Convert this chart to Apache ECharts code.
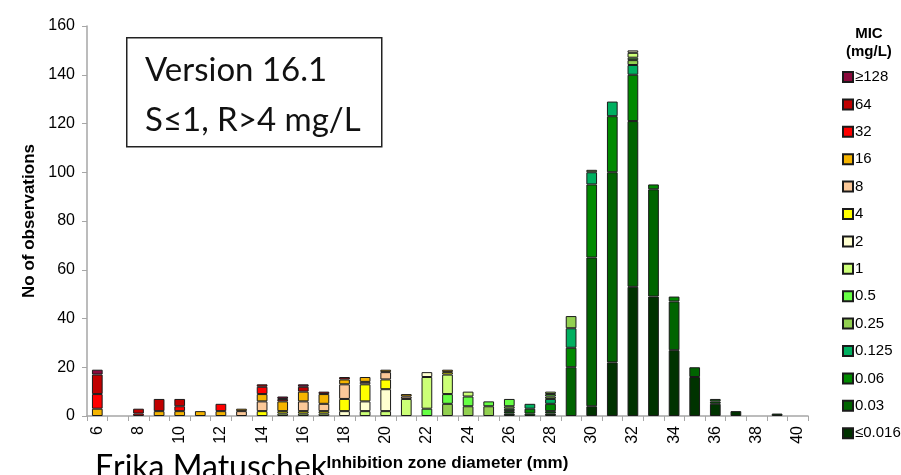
<!DOCTYPE html>
<html>
<head>
<meta charset="utf-8">
<script src="https://cdn.jsdelivr.net/npm/echarts@6/dist/echarts.min.js"></script>
<style>
  html, body { margin: 0; padding: 0; background: #fff; }
  #chart-container { width: 901px; height: 475px; }
</style>
</head>
<body>
<div id="chart-container"></div>
<script>
// zone diameters (mm)
var categories = ['6','7','8','9','10','11','12','13','14','15','16','17','18','19','20','21','22','23',
  '24','25','26','27','28','29','30','31','32','33','34','35','36','37','38','39','40'];
var yTicks = [0, 20, 40, 60, 80, 100, 120, 140, 160];

// MIC classes, bottom of stack first
var micNames = ['≤0.016','0.03','0.06','0.125','0.25','0.5','1','2','4','8','16','32','64','≥128'];
var micColors = ['#003300','#006400','#008a00','#00b060','#92d050','#66ff44','#ccff77','#ffffd0',
  '#ffff00','#fbc898','#f5b400','#ff0000','#c00000','#8b0a3c'];

var mic0016 = [0,0,0,0,0, 0,0,0,0,0, 0,0,0,0,0, 0,0,0,0,0, 1,0,1,0,4, 22,53,49,27,16, 5,2,0,1,0];
var mic003  = [0,0,0,0,0, 0,0,0,0,0, 0,0,0,0,0, 0,0,0,0,0, 1,1,1,20,61, 78,68,44,20,4, 1,0,0,0,0];
var mic006  = [0,0,0,0,0, 0,0,0,0,0, 0,0,0,0,0, 0,0,0,0,0, 1,2,3,8,30, 23,19,2,2,0, 1,0,0,0,0];
var mic0125 = [0,0,0,0,0, 0,0,0,0,0, 0,0,0,0,0, 0,0,0,0,0, 0,2,2,8,5, 6,4,0,0,0, 0,0,0,0,0];
var mic025  = [0,0,0,0,0, 0,0,0,0,0, 0,0,0,0,0, 0,0,5,4,4, 1,0,1,5,1, 0,2,0,0,0, 0,0,0,0,0];
var mic05   = [0,0,0,0,0, 0,0,0,0,0, 0,0,0,0,0, 0,3,4,4,2, 3,0,1,0,0, 0,1,0,0,0, 0,0,0,0,0];
var mic1    = [0,0,0,0,0, 0,0,0,0,1, 1,1,0,2,2, 7,13,8,2,0, 0,0,1,0,0, 0,2,0,0,0, 0,0,0,0,0];
var mic2    = [0,0,0,0,0, 0,0,0,0,0, 0,0,2,4,9, 0,2,0,0,0, 0,0,0,0,0, 0,1,0,0,0, 0,0,0,0,0];
var mic4    = [0,0,0,0,0, 0,0,0,2,1, 1,1,5,7,4, 0,0,1,0,0, 0,0,0,0,0, 0,0,0,0,0, 0,0,0,0,0];
var mic8    = [0,0,0,0,0, 0,0,2,4,0, 4,3,6,1,3, 1,0,0,0,0, 0,0,0,0,0, 0,0,0,0,0, 0,0,0,0,0];
var mic16   = [3,0,0,2,2, 2,2,1,3,4, 4,4,2,2,1, 1,0,1,0,0, 0,0,0,0,0, 0,0,0,0,0, 0,0,0,0,0];
var mic32   = [6,0,1,0,2, 0,3,0,3,0, 0,0,0,0,0, 0,0,0,0,0, 0,0,0,0,0, 0,0,0,0,0, 0,0,0,0,0];
var mic64   = [8,0,2,5,3, 0,0,0,1,1, 2,1,1,0,0, 0,0,0,0,0, 0,0,0,0,0, 0,0,0,0,0, 0,0,0,0,0];
var mic128  = [2,0,0,0,0, 0,0,0,0,1, 1,0,0,0,0, 0,0,0,0,0, 0,0,0,0,0, 0,0,0,0,0, 0,0,0,0,0];

var micData = [mic0016, mic003, mic006, mic0125, mic025, mic05, mic1, mic2, mic4, mic8, mic16, mic32, mic64, mic128];

var dom = document.getElementById('chart-container');
var myChart = echarts.init(dom, null, { renderer: 'canvas' });

var series = micNames.map(function (name, i) {
  return {
    name: name,
    type: 'bar',
    stack: 'mic',
    barWidth: '52%',
    itemStyle: {
      color: micColors[i],
      borderColor: '#1a1a1a',
      borderWidth: 1
    },
    data: micData[i].map(function (v) { return v === 0 ? '-' : v; })
  };
});

var axisFont = 'Liberation Sans';

var option = {
  animation: false,
  textStyle: { fontFamily: axisFont },
  grid: { left: 87, right: 93, top: 26, bottom: 59, outerBoundsMode: 'none' },
  legend: {
    orient: 'vertical',
    left: 837,
    top: 64,
    icon: 'rect',
    itemWidth: 10,
    itemHeight: 10,
    itemGap: 11.4,
    data: micNames.slice().reverse(),
    textStyle: { fontSize: 15, color: '#000', padding: [0, 0, 0, -3], lineHeight: 16 }
  },
  xAxis: {
    type: 'category',
    data: categories,
    name: 'Inhibition zone diameter (mm)',
    nameLocation: 'middle',
    nameGap: 39,
    nameTextStyle: { fontSize: 17, fontWeight: 'bold', color: '#000', backgroundColor: '#fff' },
    axisLine: { lineStyle: { color: '#a6a6a6', width: 1.5 } },
    axisTick: { show: true, interval: 0, length: 5, lineStyle: { color: '#a6a6a6' } },
    axisLabel: { interval: 1, rotate: 90, fontSize: 16, color: '#000', margin: 10 }
  },
  yAxis: {
    type: 'value',
    min: yTicks[0],
    max: yTicks[yTicks.length - 1],
    interval: yTicks[1] - yTicks[0],
    name: 'No of observations',
    nameLocation: 'middle',
    nameGap: 49,
    nameTextStyle: { fontSize: 17, fontWeight: 'bold', color: '#000' },
    axisLine: { show: true, lineStyle: { color: '#a6a6a6', width: 1.5 } },
    axisTick: { show: true, length: 5, lineStyle: { color: '#a6a6a6' } },
    axisLabel: { fontSize: 16, color: '#000', margin: 12 },
    splitLine: { show: false }
  },
  graphic: [
    {
      type: 'rect',
      left: 126,
      top: 37,
      shape: { width: 255, height: 109 },
      style: { fill: '#fff', stroke: '#222', lineWidth: 1.5 },
      z: 100
    },
    {
      type: 'text',
      left: 145,
      top: 54,
      style: { text: 'Version 16.1', font: '33px Lato', fill: '#111' },
      z: 101
    },
    {
      type: 'text',
      left: 145,
      top: 104,
      style: { text: 'S≤1, R>4 mg/L', font: '33px Lato', fill: '#111' },
      z: 101
    },
    {
      type: 'text',
      left: 846,
      top: 25,
      style: { text: 'MIC\n(mg/L)', font: 'bold 15px "Liberation Sans"', fill: '#000', textAlign: 'center', lineHeight: 18 },
      z: 101
    },
    {
      type: 'text',
      left: 95,
      top: 452,
      style: { text: 'Erika Matuschek', font: '32px Lato', fill: '#000' },
      z: -10
    }
  ],
  series: series
};

if (option && typeof option === 'object') {
  myChart.setOption(option);
}

window.addEventListener('resize', myChart.resize);
</script>
</body>
</html>
